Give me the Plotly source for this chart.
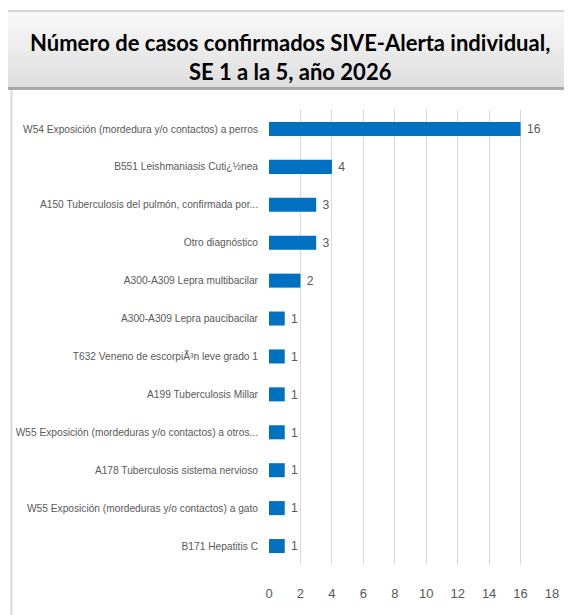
import plotly.graph_objects as go

categories = [
    "W54 Exposición (mordedura y/o contactos) a perros",
    "B551 Leishmaniasis Cuti¿½nea",
    "A150 Tuberculosis del pulmón, confirmada por...",
    "Otro diagnóstico",
    "A300-A309 Lepra multibacilar",
    "A300-A309 Lepra paucibacilar",
    "T632 Veneno de escorpiÃ³n leve grado 1",
    "A199 Tuberculosis Millar",
    "W55 Exposición (mordeduras y/o contactos) a otros...",
    "A178 Tuberculosis sistema nervioso",
    "W55 Exposición (mordeduras y/o contactos) a gato",
    "B171 Hepatitis C",
]
values = [16, 4, 3, 3, 2, 1, 1, 1, 1, 1, 1, 1]
x_ticks = [0, 2, 4, 6, 8, 10, 12, 14, 16, 18]
title_text = "Número de casos confirmados SIVE-Alerta individual,<br>SE 1 a la 5, año 2026"

# page has an 8px body margin; work in window pixels and shift
OFF = 8
W, H = 572 - OFF, 615 - OFF
ML, MR, MT, MB = 261, 20, 102, 50
PW, PH = W - ML - MR, H - MT - MB

def px_x(p):
    return (p - OFF - ML) / PW

def px_y(p):
    return (H - MB - (p - OFF)) / PH

LABEL_FONT = "Liberation Sans, Arial, sans-serif"
GREY = "#595959"

fig = go.Figure(go.Bar(
    x=values, y=categories, orientation="h",
    marker=dict(color="#0070C0", line=dict(width=0)),
    text=[f" {v}" for v in values], textposition="outside",
    textfont=dict(family=LABEL_FONT, size=13, color=GREY),
    cliponaxis=False,
))

shapes = []
top, bot = 12, 87
n = 25
c0, c1 = 0xF8, 0xDF
for i in range(n):
    y0 = top + (bot - top) * i / n
    y1 = top + (bot - top) * (i + 1) / n
    c = int(round(c0 + (c1 - c0) * i / (n - 1)))
    col = f"rgb({c},{c},{c})"
    shapes.append(dict(type="rect", xref="paper", yref="paper",
                       x0=px_x(0), x1=px_x(580), y0=px_y(y1), y1=px_y(y0),
                       fillcolor=col, line=dict(width=0), layer="below"))
shapes.append(dict(type="line", xref="paper", yref="paper",
                   x0=px_x(0), x1=px_x(580), y0=px_y(11), y1=px_y(11),
                   line=dict(color="#D4D4D4", width=2)))
shapes.append(dict(type="line", xref="paper", yref="paper",
                   x0=px_x(0), x1=px_x(580), y0=px_y(88.5), y1=px_y(88.5),
                   line=dict(color="#A8A8A8", width=3)))
shapes.append(dict(type="line", xref="paper", yref="paper",
                   x0=px_x(11.5), x1=px_x(11.5), y0=px_y(90), y1=px_y(620),
                   line=dict(color="#D9D9D9", width=2)))
shapes.append(dict(type="line", xref="paper", yref="paper",
                   x0=px_x(570), x1=px_x(570), y0=px_y(90), y1=px_y(620),
                   line=dict(color="#D9D9D9", width=2)))

fig.update_layout(
    width=W, height=H,
    margin=dict(l=ML, r=MR, t=MT, b=MB, autoexpand=False),
    paper_bgcolor="white", plot_bgcolor="white",
    bargap=0.63,
    showlegend=False,
    shapes=shapes,
    annotations=[dict(
        text=f"<b>{title_text}</b>", xref="paper", yref="paper",
        x=px_x(290), y=px_y(57.5), xanchor="center", yanchor="middle",
        showarrow=False,
        font=dict(family="Lato, Calibri, sans-serif", size=22, color="black"),
    )],
    xaxis=dict(
        range=[0, 18], tickvals=x_ticks, ticktext=[str(t) for t in x_ticks],
        showgrid=True, gridcolor="#D9D9D9", gridwidth=1,
        zeroline=False, showline=False, ticks="", automargin=False,
        tickfont=dict(family=LABEL_FONT, size=13, color=GREY),
        ticklabelstandoff=19,
    ),
    yaxis=dict(
        autorange="reversed", showgrid=False, zeroline=False,
        showline=False, ticks="", automargin=False,
        tickfont=dict(family=LABEL_FONT, size=10.2, color=GREY),
        ticklabelstandoff=10,
    ),
)

fig.write_html("out.html")
